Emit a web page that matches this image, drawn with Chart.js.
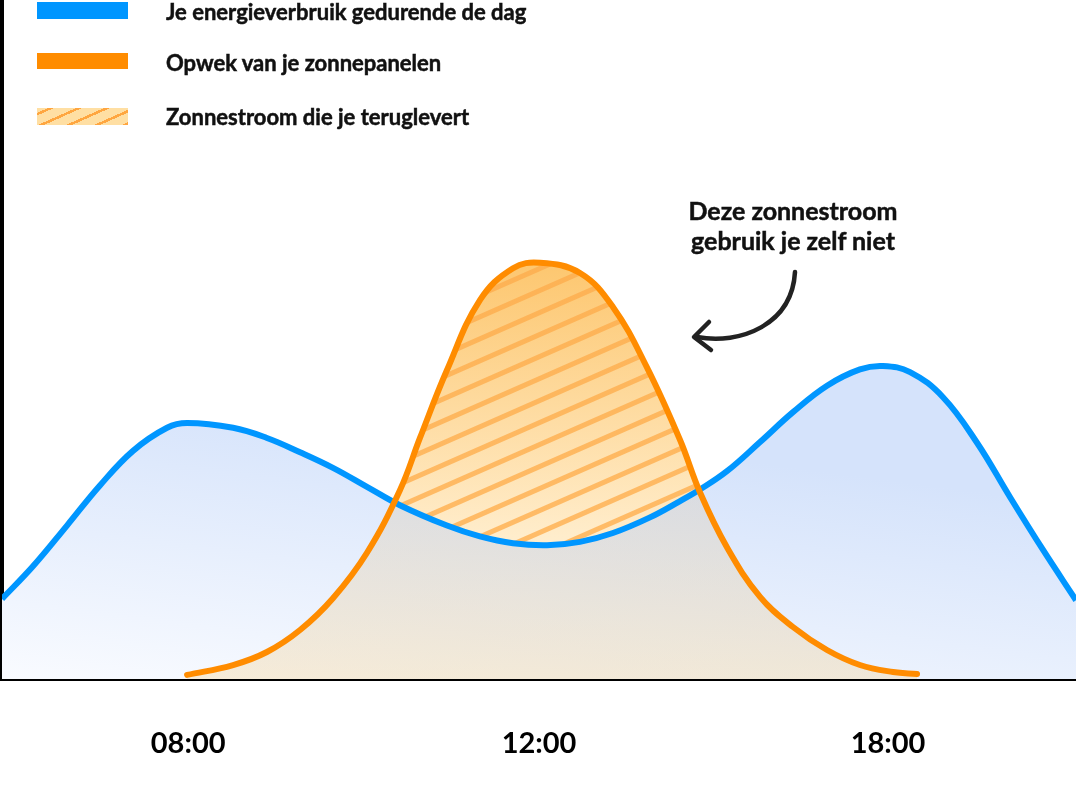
<!DOCTYPE html>
<html><head><meta charset="utf-8">
<script src="https://cdn.jsdelivr.net/npm/chart.js@4.4.1/dist/chart.umd.min.js"></script>
<style>
html,body{margin:0;padding:0;background:#fff;}
#wrap{position:relative;width:1076px;height:808px;overflow:hidden;font-family:Lato,'Noto Sans',sans-serif;}
#c{position:absolute;left:0;top:0;}
.lg{position:absolute;left:37px;width:91px;}
.lt{position:absolute;left:166px;font-weight:700;font-size:22px;color:#111;line-height:24px;white-space:nowrap;-webkit-text-stroke:0.5px #111;}
.note{position:absolute;left:643px;width:300px;text-align:center;top:195px;font-weight:700;font-size:25px;line-height:30px;color:#111;-webkit-text-stroke:0.5px #111;}
svg{position:absolute;left:0;top:0;pointer-events:none;}
</style></head>
<body><div id="wrap">
<canvas id="c" width="1076" height="808"></canvas>
<div class="lg" style="top:2px;height:17px;background:#0096ff;"></div>
<div class="lt" style="top:0px;">Je energieverbruik gedurende de dag</div>
<div class="lg" style="top:53px;height:16px;background:#ff8c00;"></div>
<div class="lt" style="top:51px;">Opwek van je zonnepanelen</div>
<div class="lg" style="top:108px;height:17px;background:repeating-linear-gradient(-24deg,#ffa640 0 2.5px,#ffdfa3 2.5px 11.4px);"></div>
<div class="lt" style="top:105px;">Zonnestroom die je teruglevert</div>
<div class="note">Deze zonnestroom<br>gebruik je zelf niet</div>
<svg width="1076" height="808">
<path d="M795,272 C792,325 740,345 697,337" fill="none" stroke="#222" stroke-width="4.5" stroke-linecap="round"/>
<path d="M709,322 L694,337 L711,350" fill="none" stroke="#222" stroke-width="4.5" stroke-linecap="round" stroke-linejoin="round"/>
</svg>
</div>
<script>
// ---- data ----
const tickPos = [1.04, 3.0, 4.95];
const tickLabels = ['08:00', '12:00', '18:00'];

const verbruikX = [0, 0.173, 0.363, 0.547, 0.732, 0.922, 1.034, 1.291, 1.48, 1.665, 1.849, 2.039, 2.223, 2.486, 2.67, 2.855, 3.045, 3.229, 3.413, 3.62, 3.788, 3.899, 4.05, 4.235, 4.419, 4.609, 4.793, 4.922, 5.073, 5.257, 5.447, 5.631, 5.816, 6.0];
const verbruikY = [11.8, 16.6, 22.6, 28.5, 33.6, 37.0, 37.7, 37.0, 35.5, 33.4, 31.1, 28.3, 25.6, 22.6, 21.0, 20.0, 19.7, 20.2, 21.5, 23.8, 26.2, 27.9, 30.6, 34.9, 39.3, 43.2, 45.6, 46.1, 45.2, 41.5, 34.8, 26.8, 19.0, 11.6];

const opwekX = [1.034, 1.291, 1.48, 1.665, 1.849, 2.039, 2.223, 2.335, 2.486, 2.67, 2.855, 3.006, 3.229, 3.413, 3.603, 3.788, 3.899, 4.05, 4.235, 4.419, 4.609, 4.793, 4.978, 5.112];
const opwekY = [0.6, 2.06, 3.98, 7.22, 11.9, 18.6, 27.8, 35.5, 45.5, 55.8, 60.5, 61.3, 59.8, 54.8, 45.9, 35.2, 27.5, 19.4, 12.1, 7.66, 4.27, 2.06, 1.03, 0.74];

const seriesNames = ['Je energieverbruik gedurende de dag', 'Opwek van je zonnepanelen', 'Zonnestroom die je teruglevert'];

// ---- styles ----
const canvas = document.getElementById('c');
const ctx2 = canvas.getContext('2d');
const AREA_BOTTOM = 679;

const blueGrad = ctx2.createLinearGradient(0, AREA_BOTTOM, 40, 370);
blueGrad.addColorStop(0, '#f9fbff');
blueGrad.addColorStop(1, '#d5e3fb');

const orangeGrad = ctx2.createLinearGradient(0, 490, 0, AREA_BOTTOM);
orangeGrad.addColorStop(0, 'rgba(218,202,178,0.35)');
orangeGrad.addColorStop(1, 'rgba(247,211,145,0.35)');

function makeHatch() {
  const w = 50, sp = 22, h = AREA_BOTTOM;
  const t = document.createElement('canvas');
  t.width = w; t.height = h;
  const c = t.getContext('2d');
  const g = c.createLinearGradient(0, 265, 0, 545);
  g.addColorStop(0, 'rgb(253,199,112)');
  g.addColorStop(1, 'rgb(255,238,206)');
  c.fillStyle = g; c.fillRect(0, 0, w, h);
  const s = c.createLinearGradient(0, 265, 0, 545);
  s.addColorStop(0, 'rgb(253,178,84)');
  s.addColorStop(1, 'rgb(255,188,104)');
  c.strokeStyle = s; c.lineWidth = 5;
  for (let k = -2; k < h / sp + 3; k++) {
    c.beginPath();
    c.moveTo(-10, sp * (k + 1) + sp * 10 / w);
    c.lineTo(w + 10, sp * k - sp * 10 / w);
    c.stroke();
  }
  return ctx2.createPattern(t, 'repeat-x');
}
const hatch = makeHatch();

const pts = (xs, ys) => xs.map((x, i) => ({ x: x, y: ys[i] }));

new Chart(canvas, {
  type: 'line',
  data: {
    datasets: [
      {
        label: seriesNames[0], data: pts(verbruikX, verbruikY), order: 3,
        borderColor: '#0096ff', borderWidth: 6, backgroundColor: blueGrad,
        fill: 'origin', pointRadius: 0, tension: 0.4
      },
      {
        label: seriesNames[1], data: pts(opwekX, opwekY), order: 2,
        borderColor: '#ff8c00', borderWidth: 6, backgroundColor: orangeGrad,
        fill: 'origin', pointRadius: 0, tension: 0.4, borderCapStyle: 'round'
      },
      {
        label: seriesNames[2], data: pts(opwekX, opwekY), order: 1,
        borderWidth: 0, borderColor: 'rgba(0,0,0,0)', backgroundColor: hatch,
        fill: { target: 0, above: hatch, below: 'rgba(0,0,0,0)' },
        pointRadius: 0, tension: 0.4
      }
    ]
  },
  options: {
    responsive: false, animation: false, devicePixelRatio: 1,
    layout: { padding: 0 },
    plugins: { legend: { display: false }, tooltip: { enabled: false }, filler: { drawTime: 'beforeDatasetsDraw' } },
    scales: {
      x: {
        type: 'linear', min: 0, max: 6,
        afterBuildTicks: s => { s.ticks = tickPos.map(v => ({ value: v })); },
        afterFit: s => { s.height = 129; },
        grid: { display: false, drawTicks: false },
        border: { display: true, color: '#000', width: 4 },
        ticks: { padding: 47, color: '#000', autoSkip: false, maxRotation: 0,
          font: { family: 'Lato', size: 29, weight: 'bold' },
          callback: (v, i) => tickLabels[i] }
      },
      y: {
        min: 0, max: 100,
        afterFit: s => { s.width = 2; },
        ticks: { display: false },
        grid: { display: false, drawTicks: false },
        border: { display: true, color: '#000', width: 4 }
      }
    }
  }
});
</script>
</body></html>
